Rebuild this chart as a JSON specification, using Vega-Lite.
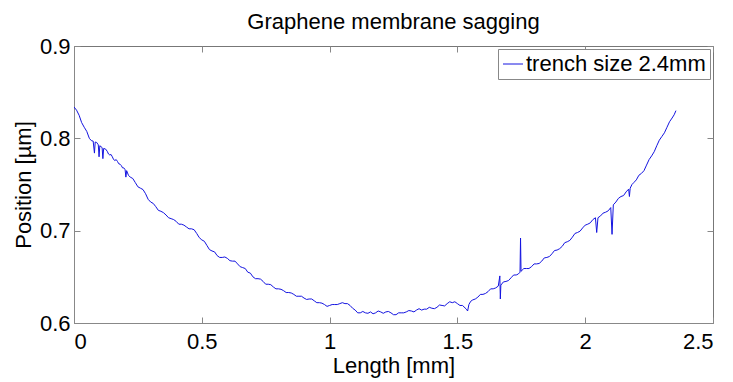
{
  "$schema": "https://vega.github.io/schema/vega-lite/v6.json",
  "width": 639,
  "height": 277,
  "autosize": {"type": "none"},
  "padding": {"left": 74, "top": 46, "right": 20, "bottom": 59},
  "background": "white",
  "title": {"text": "Graphene membrane sagging", "font": "Liberation Sans", "fontSize": 22, "fontWeight": "normal", "color": "black", "offset": 1, "anchor": "middle"},
  "config": {
    "view": {"stroke": "#777", "strokeWidth": 1},
    "axis": {"grid": false, "labelFont": "Liberation Sans", "labelFontSize": 22, "labelColor": "black", "titleFont": "Liberation Sans", "titleFontSize": 22, "titleFontWeight": "normal", "titleColor": "black", "domainColor": "#888", "tickColor": "#888"}
  },
  "data": {"values": [
    {"x": 0.000, "y": 0.834}, {"x": 0.010, "y": 0.8305}, {"x": 0.020, "y": 0.825}, {"x": 0.030, "y": 0.817},
    {"x": 0.040, "y": 0.812}, {"x": 0.050, "y": 0.8075}, {"x": 0.060, "y": 0.800}, {"x": 0.068, "y": 0.7975},
    {"x": 0.075, "y": 0.797}, {"x": 0.080, "y": 0.784}, {"x": 0.083, "y": 0.796}, {"x": 0.089, "y": 0.7955},
    {"x": 0.095, "y": 0.793}, {"x": 0.098, "y": 0.780}, {"x": 0.101, "y": 0.792}, {"x": 0.110, "y": 0.790},
    {"x": 0.113, "y": 0.778}, {"x": 0.116, "y": 0.789}, {"x": 0.123, "y": 0.7885}, {"x": 0.130, "y": 0.786},
    {"x": 0.135, "y": 0.783}, {"x": 0.140, "y": 0.782}, {"x": 0.145, "y": 0.7825}, {"x": 0.150, "y": 0.780},
    {"x": 0.155, "y": 0.777}, {"x": 0.160, "y": 0.776}, {"x": 0.165, "y": 0.777}, {"x": 0.170, "y": 0.775},
    {"x": 0.175, "y": 0.7725}, {"x": 0.180, "y": 0.772}, {"x": 0.185, "y": 0.7705}, {"x": 0.190, "y": 0.768},
    {"x": 0.195, "y": 0.768}, {"x": 0.200, "y": 0.766}, {"x": 0.203, "y": 0.758}, {"x": 0.206, "y": 0.765},
    {"x": 0.213, "y": 0.760}, {"x": 0.220, "y": 0.758}, {"x": 0.230, "y": 0.7565}, {"x": 0.240, "y": 0.752},
    {"x": 0.250, "y": 0.7475}, {"x": 0.260, "y": 0.746}, {"x": 0.270, "y": 0.7445}, {"x": 0.280, "y": 0.740},
    {"x": 0.290, "y": 0.734}, {"x": 0.300, "y": 0.731}, {"x": 0.310, "y": 0.7295}, {"x": 0.320, "y": 0.726},
    {"x": 0.330, "y": 0.722}, {"x": 0.340, "y": 0.721}, {"x": 0.350, "y": 0.7195}, {"x": 0.360, "y": 0.717},
    {"x": 0.370, "y": 0.714}, {"x": 0.380, "y": 0.713}, {"x": 0.390, "y": 0.712}, {"x": 0.400, "y": 0.710},
    {"x": 0.410, "y": 0.707}, {"x": 0.420, "y": 0.707}, {"x": 0.430, "y": 0.706}, {"x": 0.440, "y": 0.704},
    {"x": 0.450, "y": 0.702}, {"x": 0.460, "y": 0.702}, {"x": 0.470, "y": 0.701}, {"x": 0.480, "y": 0.697},
    {"x": 0.490, "y": 0.6925}, {"x": 0.500, "y": 0.690}, {"x": 0.510, "y": 0.6885}, {"x": 0.520, "y": 0.684},
    {"x": 0.530, "y": 0.6795}, {"x": 0.540, "y": 0.678}, {"x": 0.550, "y": 0.677}, {"x": 0.560, "y": 0.673},
    {"x": 0.570, "y": 0.671}, {"x": 0.580, "y": 0.671}, {"x": 0.590, "y": 0.6715}, {"x": 0.600, "y": 0.670},
    {"x": 0.610, "y": 0.6675}, {"x": 0.620, "y": 0.667}, {"x": 0.630, "y": 0.667}, {"x": 0.640, "y": 0.664},
    {"x": 0.650, "y": 0.661}, {"x": 0.660, "y": 0.660}, {"x": 0.670, "y": 0.659}, {"x": 0.680, "y": 0.655},
    {"x": 0.690, "y": 0.654}, {"x": 0.700, "y": 0.650}, {"x": 0.710, "y": 0.648}, {"x": 0.720, "y": 0.648},
    {"x": 0.730, "y": 0.6475}, {"x": 0.740, "y": 0.645}, {"x": 0.750, "y": 0.642}, {"x": 0.760, "y": 0.642},
    {"x": 0.770, "y": 0.6415}, {"x": 0.780, "y": 0.639}, {"x": 0.790, "y": 0.637}, {"x": 0.800, "y": 0.637},
    {"x": 0.810, "y": 0.6365}, {"x": 0.820, "y": 0.635}, {"x": 0.830, "y": 0.633}, {"x": 0.840, "y": 0.633},
    {"x": 0.850, "y": 0.6325}, {"x": 0.860, "y": 0.631}, {"x": 0.870, "y": 0.629}, {"x": 0.880, "y": 0.629},
    {"x": 0.890, "y": 0.629}, {"x": 0.900, "y": 0.627}, {"x": 0.910, "y": 0.6255}, {"x": 0.920, "y": 0.626},
    {"x": 0.930, "y": 0.626}, {"x": 0.940, "y": 0.624}, {"x": 0.950, "y": 0.622}, {"x": 0.960, "y": 0.622},
    {"x": 0.970, "y": 0.6215}, {"x": 0.980, "y": 0.620}, {"x": 0.990, "y": 0.618}, {"x": 1.000, "y": 0.619},
    {"x": 1.010, "y": 0.620}, {"x": 1.020, "y": 0.620}, {"x": 1.030, "y": 0.620}, {"x": 1.040, "y": 0.621},
    {"x": 1.050, "y": 0.622}, {"x": 1.060, "y": 0.621}, {"x": 1.070, "y": 0.621}, {"x": 1.080, "y": 0.619},
    {"x": 1.090, "y": 0.616}, {"x": 1.100, "y": 0.614}, {"x": 1.110, "y": 0.611}, {"x": 1.120, "y": 0.611},
    {"x": 1.130, "y": 0.6125}, {"x": 1.140, "y": 0.611}, {"x": 1.150, "y": 0.6105}, {"x": 1.160, "y": 0.612},
    {"x": 1.170, "y": 0.610}, {"x": 1.180, "y": 0.611}, {"x": 1.190, "y": 0.613}, {"x": 1.200, "y": 0.612},
    {"x": 1.210, "y": 0.6105}, {"x": 1.220, "y": 0.612}, {"x": 1.230, "y": 0.6125}, {"x": 1.240, "y": 0.611},
    {"x": 1.250, "y": 0.609}, {"x": 1.260, "y": 0.609}, {"x": 1.270, "y": 0.611}, {"x": 1.280, "y": 0.611},
    {"x": 1.290, "y": 0.611}, {"x": 1.300, "y": 0.612}, {"x": 1.310, "y": 0.6135}, {"x": 1.320, "y": 0.613},
    {"x": 1.330, "y": 0.612}, {"x": 1.340, "y": 0.614}, {"x": 1.350, "y": 0.6155}, {"x": 1.360, "y": 0.614},
    {"x": 1.370, "y": 0.615}, {"x": 1.380, "y": 0.615}, {"x": 1.390, "y": 0.617}, {"x": 1.400, "y": 0.616},
    {"x": 1.410, "y": 0.6155}, {"x": 1.420, "y": 0.617}, {"x": 1.430, "y": 0.6195}, {"x": 1.440, "y": 0.619},
    {"x": 1.450, "y": 0.6185}, {"x": 1.460, "y": 0.621}, {"x": 1.470, "y": 0.623}, {"x": 1.480, "y": 0.622},
    {"x": 1.490, "y": 0.623}, {"x": 1.500, "y": 0.621}, {"x": 1.510, "y": 0.619}, {"x": 1.520, "y": 0.619},
    {"x": 1.535, "y": 0.615}, {"x": 1.540, "y": 0.613}, {"x": 1.545, "y": 0.620}, {"x": 1.552, "y": 0.6235},
    {"x": 1.560, "y": 0.625}, {"x": 1.570, "y": 0.626}, {"x": 1.580, "y": 0.628}, {"x": 1.590, "y": 0.631},
    {"x": 1.600, "y": 0.631}, {"x": 1.610, "y": 0.632}, {"x": 1.620, "y": 0.634}, {"x": 1.630, "y": 0.637},
    {"x": 1.640, "y": 0.637}, {"x": 1.650, "y": 0.638}, {"x": 1.660, "y": 0.640}, {"x": 1.666, "y": 0.651},
    {"x": 1.668, "y": 0.626}, {"x": 1.670, "y": 0.641}, {"x": 1.680, "y": 0.6445}, {"x": 1.690, "y": 0.645},
    {"x": 1.700, "y": 0.646}, {"x": 1.710, "y": 0.649}, {"x": 1.720, "y": 0.652}, {"x": 1.730, "y": 0.652},
    {"x": 1.738, "y": 0.653}, {"x": 1.745, "y": 0.655}, {"x": 1.747, "y": 0.692}, {"x": 1.749, "y": 0.656},
    {"x": 1.760, "y": 0.659}, {"x": 1.770, "y": 0.659}, {"x": 1.780, "y": 0.659}, {"x": 1.790, "y": 0.661},
    {"x": 1.800, "y": 0.664}, {"x": 1.810, "y": 0.664}, {"x": 1.820, "y": 0.6645}, {"x": 1.830, "y": 0.667},
    {"x": 1.840, "y": 0.6705}, {"x": 1.850, "y": 0.671}, {"x": 1.860, "y": 0.672}, {"x": 1.870, "y": 0.675},
    {"x": 1.880, "y": 0.6785}, {"x": 1.890, "y": 0.679}, {"x": 1.900, "y": 0.6805}, {"x": 1.910, "y": 0.683},
    {"x": 1.920, "y": 0.687}, {"x": 1.930, "y": 0.688}, {"x": 1.940, "y": 0.6895}, {"x": 1.950, "y": 0.693},
    {"x": 1.960, "y": 0.697}, {"x": 1.970, "y": 0.698}, {"x": 1.980, "y": 0.6995}, {"x": 1.990, "y": 0.703},
    {"x": 2.000, "y": 0.706}, {"x": 2.010, "y": 0.707}, {"x": 2.020, "y": 0.7085}, {"x": 2.030, "y": 0.712},
    {"x": 2.040, "y": 0.714}, {"x": 2.045, "y": 0.698}, {"x": 2.050, "y": 0.714}, {"x": 2.060, "y": 0.716},
    {"x": 2.070, "y": 0.719}, {"x": 2.080, "y": 0.720}, {"x": 2.090, "y": 0.7215}, {"x": 2.100, "y": 0.725},
    {"x": 2.105, "y": 0.696}, {"x": 2.110, "y": 0.728}, {"x": 2.120, "y": 0.731}, {"x": 2.130, "y": 0.735},
    {"x": 2.140, "y": 0.737}, {"x": 2.150, "y": 0.738}, {"x": 2.160, "y": 0.742}, {"x": 2.170, "y": 0.745},
    {"x": 2.173, "y": 0.737}, {"x": 2.176, "y": 0.746}, {"x": 2.183, "y": 0.750}, {"x": 2.190, "y": 0.752},
    {"x": 2.200, "y": 0.755}, {"x": 2.210, "y": 0.760}, {"x": 2.220, "y": 0.762}, {"x": 2.230, "y": 0.765},
    {"x": 2.240, "y": 0.771}, {"x": 2.250, "y": 0.777}, {"x": 2.260, "y": 0.781}, {"x": 2.270, "y": 0.7855},
    {"x": 2.280, "y": 0.792}, {"x": 2.290, "y": 0.798}, {"x": 2.300, "y": 0.802}, {"x": 2.310, "y": 0.806},
    {"x": 2.320, "y": 0.812}, {"x": 2.330, "y": 0.818}, {"x": 2.340, "y": 0.822}, {"x": 2.348, "y": 0.8255},
    {"x": 2.355, "y": 0.830}
  ]},
  "layer": [
    {
      "mark": {"type": "line", "strokeWidth": 1, "clip": true},
      "encoding": {
        "x": {"field": "x", "type": "quantitative", "scale": {"domain": [0, 2.5], "nice": false, "zero": false},
              "axis": {"orient": "bottom", "values": [0, 0.5, 1, 1.5, 2, 2.5], "format": "~g", "title": "Length [mm]", "ticks": false, "labelPadding": 8, "titlePadding": 3}},
        "y": {"field": "y", "type": "quantitative", "scale": {"domain": [0.6, 0.9], "nice": false, "zero": false},
              "axis": {"orient": "left", "values": [0.6, 0.7, 0.8, 0.9], "format": "~g", "title": "Position [µm]", "ticks": false, "labelPadding": 4, "titlePadding": 4}},
        "color": {"datum": "trench size 2.4mm", "type": "nominal", "scale": {"range": ["#1414e0"]},
                  "legend": {"orient": "top-right", "offset": 3, "title": null, "symbolType": "stroke", "symbolSize": 400, "symbolStrokeWidth": 1,
                             "labelFont": "Liberation Sans", "labelFontSize": 22, "labelColor": "black", "labelOffset": 2, "labelLimit": 400,
                             "strokeColor": "#888", "fillColor": "white", "padding": 4}}
      }
    },
    {
      "mark": {"type": "point", "opacity": 0, "size": 0},
      "encoding": {
        "x": {"field": "x", "type": "quantitative", "scale": {"domain": [0, 2.5], "nice": false, "zero": false},
              "axis": {"orient": "top", "values": [0, 0.5, 1, 1.5, 2, 2.5], "labels": false, "title": null, "domain": false, "tickSize": -6}},
        "y": {"field": "y", "type": "quantitative", "scale": {"domain": [0.6, 0.9], "nice": false, "zero": false},
              "axis": {"orient": "right", "values": [0.6, 0.7, 0.8, 0.9], "labels": false, "title": null, "domain": false, "tickSize": -6}}
      }
    },
    {
      "mark": {"type": "point", "opacity": 0, "size": 0},
      "encoding": {
        "x": {"field": "x", "type": "quantitative", "scale": {"domain": [0, 2.5], "nice": false, "zero": false},
              "axis": {"orient": "bottom", "values": [0, 0.5, 1, 1.5, 2, 2.5], "labels": false, "title": null, "domain": false, "tickSize": -6}},
        "y": {"field": "y", "type": "quantitative", "scale": {"domain": [0.6, 0.9], "nice": false, "zero": false},
              "axis": {"orient": "left", "values": [0.6, 0.7, 0.8, 0.9], "labels": false, "title": null, "domain": false, "tickSize": -6}}
      }
    }
  ],
  "resolve": {"axis": {"x": "independent", "y": "independent"}}
}
